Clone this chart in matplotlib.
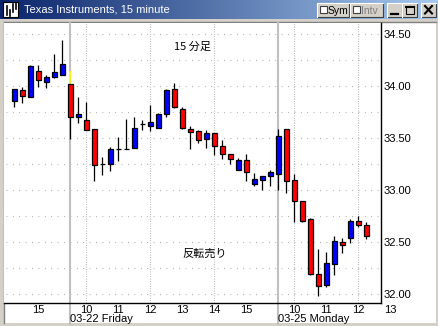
import matplotlib
matplotlib.use("Agg")
import matplotlib.pyplot as plt
import numpy as np
import pandas as pd
from matplotlib import transforms
from matplotlib.patches import Rectangle

W, H = 438, 326

# 15-minute bars: Thu 14:15-15:45, Fri 03-22 full session, Mon 03-25 09:30-12:15
opens = [33.86, 33.96, 33.89, 34.14, 34.04, 34.09, 34.11,
         34.02, 33.70, 33.67, 33.59, 33.25, 33.25, 33.39, 33.39, 33.40, 33.63,
         33.62, 33.60, 33.73, 33.97, 33.78, 33.59, 33.57, 33.49, 33.55, 33.42,
         33.35, 33.19, 33.29, 33.06, 33.10, 33.13,
         33.15, 33.59, 33.10, 32.89, 32.72, 32.19, 32.09, 32.29, 32.50, 32.54,
         32.70, 32.66]
highs = [33.97, 33.99, 34.20, 34.20, 34.11, 34.31, 34.44,
         34.02, 33.89, 33.85, 33.59, 33.32, 33.41, 33.51, 33.68, 33.70, 33.67,
         33.82, 33.74, 33.97, 34.03, 33.80, 33.62, 33.58, 33.58, 33.55, 33.48,
         33.35, 33.31, 33.35, 33.16, 33.13, 33.19,
         33.59, 33.59, 33.15, 32.89, 32.73, 32.43, 32.40, 32.56, 32.54, 32.72,
         32.75, 32.69]
lows = [33.80, 33.84, 33.89, 33.99, 33.98, 34.08, 34.11,
        33.49, 33.64, 33.58, 33.09, 33.14, 33.18, 33.28, 33.39, 33.40, 33.58,
        33.57, 33.60, 33.70, 33.79, 33.59, 33.39, 33.45, 33.40, 33.34, 33.30,
        33.25, 33.19, 33.09, 33.04, 33.00, 33.04,
        33.00, 32.97, 32.69, 32.69, 32.18, 31.98, 32.07, 32.18, 32.39, 32.49,
        32.64, 32.53]
closes = [33.97, 33.90, 34.19, 34.06, 34.09, 34.13, 34.21,
          33.70, 33.73, 33.58, 33.24, 33.25, 33.39, 33.39, 33.39, 33.60, 33.63,
          33.65, 33.73, 33.96, 33.80, 33.60, 33.56, 33.48, 33.55, 33.42, 33.35,
          33.30, 33.29, 33.17, 33.11, 33.13, 33.17,
          33.52, 33.09, 32.89, 32.70, 32.19, 32.08, 32.30, 32.51, 32.47, 32.70,
          32.66, 32.56]
prev_close = 34.14

price_ticks = [32.00, 32.50, 33.00, 33.50, 34.00, 34.50]
grid_levels = [32.00, 32.25, 32.50, 32.75, 33.00, 33.25, 33.50, 33.75, 34.00, 34.25, 34.50]

slots = list(pd.date_range("2002-03-21 14:15", "2002-03-21 15:45", freq="15min")) \
    + list(pd.date_range("2002-03-22 09:30", "2002-03-22 15:45", freq="15min")) \
    + list(pd.date_range("2002-03-25 09:30", "2002-03-25 13:00", freq="15min"))

GRAY = "#d4d0c8"
FONT = "Liberation Sans"
CJK = ["Noto Sans CJK JP", "DejaVu Sans"]


def px_axes(fig, x, y, w, h):
    return fig.add_axes([x / W, 1 - (y + h) / H, w / W, h / H])


def bevel(bg, x, y, w, h):
    bg.add_patch(Rectangle((x, y), w, h, facecolor=GRAY, edgecolor="none", zorder=3))
    bg.plot([x, x + w, x + w], [y + h, y + h, y], color="#404040", lw=0.8, zorder=4)
    bg.plot([x, x, x + w], [y + h, y, y], color="white", lw=0.8, zorder=4)


fig = plt.figure(figsize=(W / 100, H / 100), dpi=100, facecolor=GRAY)

# window chrome, drawn in pixel coordinates
bg = fig.add_axes([0, 0, 1, 1], zorder=0)
bg.set_xlim(0, W)
bg.set_ylim(H, 0)
bg.axis("off")
grad = np.linspace(0, 1, 256)[None, :, None]
left, right = np.array([10, 36, 106]) / 255, np.array([166, 202, 240]) / 255
bg.imshow(left + grad * (right - left), extent=(0, W, 19, 0), aspect="auto", zorder=1)
bg.add_patch(Rectangle((4, 22), 432, 301, facecolor="white", edgecolor="none", zorder=1))
bg.plot([3.5, 3.5], [22, 323], color="#808080", lw=1, zorder=2)
bg.plot([3.5, 436], [22, 22], color="#808080", lw=1, zorder=2)
# icon
bg.add_patch(Rectangle((3, 2), 15, 15, facecolor="white", edgecolor="black", lw=0.8, zorder=3))
for ix, (a, b) in zip([6.5, 9.5, 12.5, 15.5], [(6, 15), (10, 16), (4, 12), (3, 9)]):
    bg.plot([ix, ix], [a, b], color="black", lw=1.2, zorder=4)
bg.text(24, 10, "Texas Instruments, 15 minute", color="white", fontsize=8,
        family=FONT, va="center", ha="left", zorder=4)
# buttons
for x, w in [(317, 32), (350, 33), (387, 15), (402, 15), (421, 15)]:
    bevel(bg, x, 3, w, 14)
for x, lab, col in [(319.5, "Sym", "black"), (352.5, "Intv", "#808080")]:
    bg.add_patch(Rectangle((x, 6), 7, 7, facecolor="white", edgecolor="#404040", lw=0.8, zorder=5))
    bg.text(x + 8, 10.5, lab, color=col, fontsize=7.5, family=FONT, va="center", zorder=5)
bg.plot([391, 398], [13.5, 13.5], color="black", lw=1.6, zorder=5)
bg.add_patch(Rectangle((405.5, 6), 8, 7.5, facecolor="none", edgecolor="black", lw=0.8, zorder=5))
bg.plot([405.5, 413.5], [6.5, 6.5], color="black", lw=1.5, zorder=5)
bg.plot([425, 432], [6, 13.5], color="black", lw=1.5, zorder=5)
bg.plot([425, 432], [13.5, 6], color="black", lw=1.5, zorder=5)

# price chart
ax = px_axes(fig, 4, 23, 377, 280)
ax.set_zorder(1)
ax.set_facecolor("white")
ax.set_xlim(-1.29, 45.84)
ax.set_ylim(31.913, 34.606)
for s in ["left", "top"]:
    ax.spines[s].set_visible(False)
for s in ["right", "bottom"]:
    ax.spines[s].set_linewidth(1.0)
ax.set_xticks([])
ax.yaxis.tick_right()
ax.set_yticks(price_ticks)
ax.set_yticklabels([f"{v:.2f}" for v in price_ticks], fontsize=8, family=FONT)
ax.tick_params(axis="y", length=0, pad=2)

ax.hlines(grid_levels, -1, 45.8, colors="#a0a0a0", lw=0.8,
          linestyles=[(0, (0.72, 5.04))], zorder=0)

even_hours = [i for i, t in enumerate(slots) if t.minute == 0 and t.hour % 2 == 0]
ax.vlines(even_hours, 31.913, 34.606, colors="#a8a8a8", lw=0.8,
          linestyles=[(0, (0.72, 1.44))], zorder=0)

day_starts = [i for i in range(1, len(slots)) if slots[i].date() != slots[i - 1].date()]
for i in day_starts:
    ax.axvline(i, ymin=-0.075, ymax=1, color="#c0c0c0", lw=1.5, clip_on=False, zorder=0.5)

x = np.arange(len(opens))
o, h, l, c = map(np.array, (opens, highs, lows, closes))
ax.vlines(day_starts[0], opens[day_starts[0]], prev_close, color="#ffff00", lw=1.2, zorder=2)
ax.vlines(x, l, h, color="black", lw=0.9, zorder=2)
cols = np.where(c > o, "#0000ff", np.where(c < o, "#ff0000", "black"))
ax.bar(x, np.abs(c - o), bottom=np.minimum(o, c), width=0.56, color=cols,
       edgecolor="black", linewidth=0.9, zorder=3)

tr = transforms.blended_transform_factory(ax.transData, ax.transAxes)
for i, t in enumerate(slots):
    if t.minute == 0:
        ax.text(i, -0.025, str(t.hour), transform=tr, ha="center", va="center",
                fontsize=8, family=FONT, clip_on=False)
for i in day_starts:
    ax.text(i - 0.02, -0.058, f"{slots[i]:%m-%d %A}", transform=tr, ha="left",
            va="center", fontsize=8, family=FONT, clip_on=False)

ax.text(0.499, 0.914, "15 分足", transform=ax.transAxes, ha="center", va="center",
        fontsize=8, family=CJK)
ax.text(0.533, 0.175, "反転売り", transform=ax.transAxes, ha="center", va="center",
        fontsize=8, family=CJK)

fig.savefig("out.png", dpi=100, facecolor=GRAY)
